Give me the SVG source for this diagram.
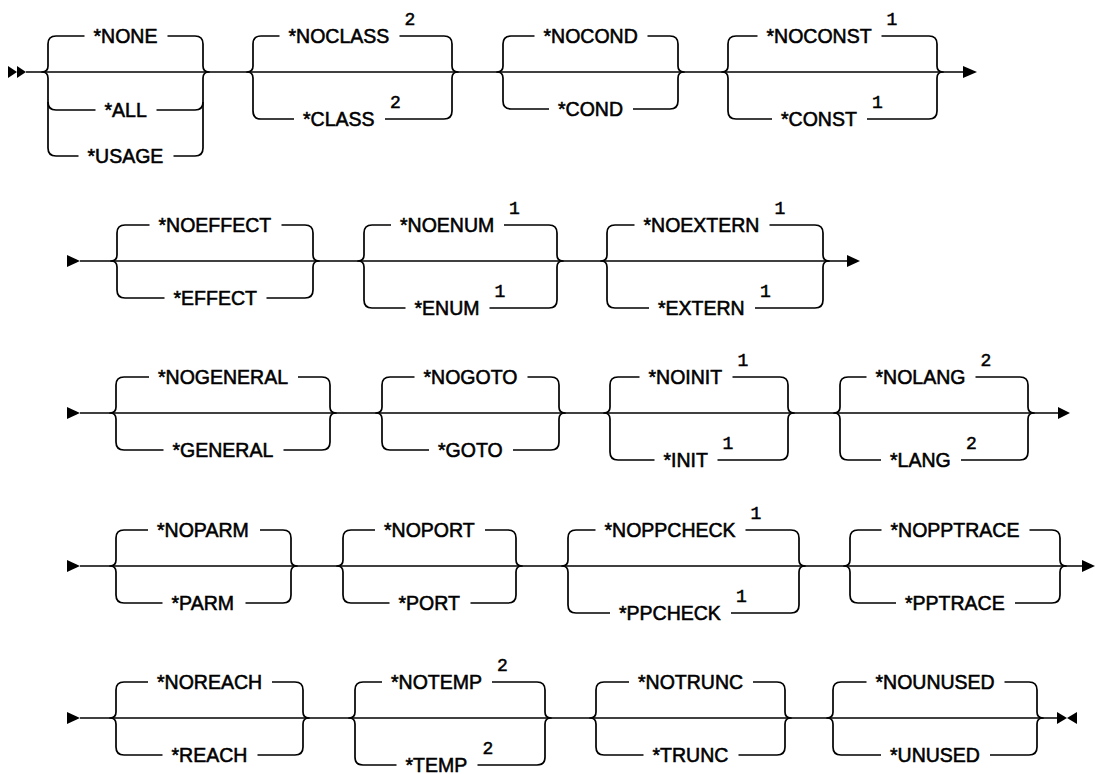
<svg xmlns="http://www.w3.org/2000/svg" width="1095" height="774" viewBox="0 0 1095 774">
<style>
.ln{fill:none;stroke:#000;stroke-width:1.7;stroke-linejoin:round}
.ah{fill:#000;stroke:none}
.lbl{font-family:"Liberation Sans",Arial,sans-serif;font-size:19.5px;fill:#000;stroke:#000;stroke-width:0.55}
.sup{font-family:"Liberation Mono","Courier New",monospace;font-size:18px;fill:#000;stroke:#000;stroke-width:0.5}
</style>
<rect width="1095" height="774" fill="#fff"/>
<g id="connectors">
<polygon class="ah" points="8,66 17,72 8,78"/><polygon class="ah" points="17,66 26,72 17,78"/>
<path class="ln" d="M26,72 H963"/><polygon class="ah" points="963,66 977,72 963,78"/>
<polygon class="ah" points="67,255 80,261 67,267"/>
<path class="ln" d="M80,261 H847"/><polygon class="ah" points="847,255 860,261 847,267"/>
<polygon class="ah" points="67,407 80,413 67,419"/>
<path class="ln" d="M80,413 H1058"/><polygon class="ah" points="1058,407 1070,413 1058,419"/>
<polygon class="ah" points="67,560 80,566 67,572"/>
<path class="ln" d="M80,566 H1082"/><polygon class="ah" points="1082,560 1095,566 1082,572"/>
<polygon class="ah" points="67,712 80,718 67,724"/>
<path class="ln" d="M80,718 H1057"/><polygon class="ah" points="1057,712 1067,718 1057,724"/><polygon class="ah" points="1077,712 1067,718 1077,724"/>
</g>
<g id="node-none">
<path class="ln" d="M84.5,36 H56 Q48,36 48,44 V66 Q48,72 42,72 Q48,72 48,78 V148 Q48,156 56,156 H78.5"/>
<path class="ln" d="M48,102 Q48,110 56,110 H95.5"/>
<path class="ln" d="M167.5,36 H195 Q203,36 203,44 V66 Q203,72 209,72 Q203,72 203,78 V148 Q203,156 195,156 H173.5"/>
<path class="ln" d="M203,102 Q203,110 195,110 H156.5"/>
<text class="lbl" x="93.5" y="43">*NONE</text>
<text class="lbl" x="104.5" y="117">*ALL</text>
<text class="lbl" x="87.5" y="163">*USAGE</text>
</g>
<g id="node-class">
<path class="ln" d="M279.5,36 H261 Q253,36 253,44 V66 Q253,72 247,72 Q253,72 253,78 V111 Q253,119 261,119 H294"/>
<path class="ln" d="M399.5,36 H444 Q452,36 452,44 V66 Q452,72 458,72 Q452,72 452,78 V111 Q452,119 444,119 H385"/>
<text class="lbl" x="288.5" y="43">*NOCLASS</text><text class="sup" x="404.5" y="25">2</text>
<text class="lbl" x="303" y="126">*CLASS</text><text class="sup" x="390" y="108">2</text>
</g>
<g id="node-cond">
<path class="ln" d="M534.5,36 H511 Q503,36 503,44 V66 Q503,72 497,72 Q503,72 503,78 V101 Q503,109 511,109 H549"/>
<path class="ln" d="M647.5,36 H670 Q678,36 678,44 V66 Q678,72 684,72 Q678,72 678,78 V101 Q678,109 670,109 H633"/>
<text class="lbl" x="543.5" y="43">*NOCOND</text>
<text class="lbl" x="558" y="116">*COND</text>
</g>
<g id="node-const">
<path class="ln" d="M757.5,36 H736 Q728,36 728,44 V66 Q728,72 722,72 Q728,72 728,78 V111 Q728,119 736,119 H772"/>
<path class="ln" d="M881.5,36 H929 Q937,36 937,44 V66 Q937,72 943,72 Q937,72 937,78 V111 Q937,119 929,119 H867"/>
<text class="lbl" x="766.5" y="43">*NOCONST</text><text class="sup" x="886.5" y="25">1</text>
<text class="lbl" x="781" y="126">*CONST</text><text class="sup" x="872" y="108">1</text>
</g>
<g id="node-effect">
<path class="ln" d="M149.5,225 H125 Q117,225 117,233 V255 Q117,261 111,261 Q117,261 117,267 V290 Q117,298 125,298 H164.5"/>
<path class="ln" d="M281.5,225 H305 Q313,225 313,233 V255 Q313,261 319,261 Q313,261 313,267 V290 Q313,298 305,298 H266.5"/>
<text class="lbl" x="158.5" y="232">*NOEFFECT</text>
<text class="lbl" x="173.5" y="305">*EFFECT</text>
</g>
<g id="node-enum">
<path class="ln" d="M391,225 H372 Q364,225 364,233 V255 Q364,261 358,261 Q364,261 364,267 V300 Q364,308 372,308 H405.5"/>
<path class="ln" d="M504,225 H549 Q557,225 557,233 V255 Q557,261 563,261 Q557,261 557,267 V300 Q557,308 549,308 H489.5"/>
<text class="lbl" x="400" y="232">*NOENUM</text><text class="sup" x="509" y="214">1</text>
<text class="lbl" x="414.5" y="315">*ENUM</text><text class="sup" x="494.5" y="297">1</text>
</g>
<g id="node-extern">
<path class="ln" d="M634.5,225 H615 Q607,225 607,233 V255 Q607,261 601,261 Q607,261 607,267 V300 Q607,308 615,308 H649"/>
<path class="ln" d="M769.5,225 H815 Q823,225 823,233 V255 Q823,261 829,261 Q823,261 823,267 V300 Q823,308 815,308 H755"/>
<text class="lbl" x="643.5" y="232">*NOEXTERN</text><text class="sup" x="774.5" y="214">1</text>
<text class="lbl" x="658" y="315">*EXTERN</text><text class="sup" x="760" y="297">1</text>
</g>
<g id="node-general">
<path class="ln" d="M149,377 H124 Q116,377 116,385 V407 Q116,413 110,413 Q116,413 116,419 V442 Q116,450 124,450 H163.5"/>
<path class="ln" d="M298,377 H322 Q330,377 330,385 V407 Q330,413 336,413 Q330,413 330,419 V442 Q330,450 322,450 H283.5"/>
<text class="lbl" x="158" y="384">*NOGENERAL</text>
<text class="lbl" x="172.5" y="457">*GENERAL</text>
</g>
<g id="node-goto">
<path class="ln" d="M414.5,377 H390 Q382,377 382,385 V407 Q382,413 376,413 Q382,413 382,419 V442 Q382,450 390,450 H429"/>
<path class="ln" d="M527.5,377 H551 Q559,377 559,385 V407 Q559,413 565,413 Q559,413 559,419 V442 Q559,450 551,450 H513"/>
<text class="lbl" x="423.5" y="384">*NOGOTO</text>
<text class="lbl" x="438" y="457">*GOTO</text>
</g>
<g id="node-init">
<path class="ln" d="M639.5,377 H618 Q610,377 610,385 V407 Q610,413 604,413 Q610,413 610,419 V452 Q610,460 618,460 H654.5"/>
<path class="ln" d="M732.5,377 H780 Q788,377 788,385 V407 Q788,413 794,413 Q788,413 788,419 V452 Q788,460 780,460 H717.5"/>
<text class="lbl" x="648.5" y="384">*NOINIT</text><text class="sup" x="737.5" y="366">1</text>
<text class="lbl" x="663.5" y="467">*INIT</text><text class="sup" x="722.5" y="449">1</text>
</g>
<g id="node-lang">
<path class="ln" d="M866.5,377 H848 Q840,377 840,385 V407 Q840,413 834,413 Q840,413 840,419 V452 Q840,460 848,460 H881"/>
<path class="ln" d="M975.5,377 H1020 Q1028,377 1028,385 V407 Q1028,413 1034,413 Q1028,413 1028,419 V452 Q1028,460 1020,460 H961"/>
<text class="lbl" x="875.5" y="384">*NOLANG</text><text class="sup" x="980.5" y="366">2</text>
<text class="lbl" x="890" y="467">*LANG</text><text class="sup" x="966" y="449">2</text>
</g>
<g id="node-parm">
<path class="ln" d="M148,530 H124 Q116,530 116,538 V560 Q116,566 110,566 Q116,566 116,572 V595 Q116,603 124,603 H162.5"/>
<path class="ln" d="M260,530 H283 Q291,530 291,538 V560 Q291,566 297,566 Q291,566 291,572 V595 Q291,603 283,603 H245.5"/>
<text class="lbl" x="157" y="537">*NOPARM</text>
<text class="lbl" x="171.5" y="610">*PARM</text>
</g>
<g id="node-port">
<path class="ln" d="M375,530 H351 Q343,530 343,538 V560 Q343,566 337,566 Q343,566 343,572 V595 Q343,603 351,603 H389.5"/>
<path class="ln" d="M485,530 H508 Q516,530 516,538 V560 Q516,566 522,566 Q516,566 516,572 V595 Q516,603 508,603 H470.5"/>
<text class="lbl" x="384" y="537">*NOPORT</text>
<text class="lbl" x="398.5" y="610">*PORT</text>
</g>
<g id="node-ppcheck">
<path class="ln" d="M595.5,530 H576 Q568,530 568,538 V560 Q568,566 562,566 Q568,566 568,572 V605 Q568,613 576,613 H610"/>
<path class="ln" d="M745.5,530 H791 Q799,530 799,538 V560 Q799,566 805,566 Q799,566 799,572 V605 Q799,613 791,613 H731"/>
<text class="lbl" x="604.5" y="537">*NOPPCHECK</text><text class="sup" x="750.5" y="519">1</text>
<text class="lbl" x="619" y="620">*PPCHECK</text><text class="sup" x="736" y="602">1</text>
</g>
<g id="node-pptrace">
<path class="ln" d="M881.5,530 H858 Q850,530 850,538 V560 Q850,566 844,566 Q850,566 850,572 V595 Q850,603 858,603 H896"/>
<path class="ln" d="M1029.5,530 H1052 Q1060,530 1060,538 V560 Q1060,566 1066,566 Q1060,566 1060,572 V595 Q1060,603 1052,603 H1015"/>
<text class="lbl" x="890.5" y="537">*NOPPTRACE</text>
<text class="lbl" x="905" y="610">*PPTRACE</text>
</g>
<g id="node-reach">
<path class="ln" d="M148,682 H124 Q116,682 116,690 V712 Q116,718 110,718 Q116,718 116,724 V747 Q116,755 124,755 H162.5"/>
<path class="ln" d="M272,682 H295 Q303,682 303,690 V712 Q303,718 309,718 Q303,718 303,724 V747 Q303,755 295,755 H257.5"/>
<text class="lbl" x="157" y="689">*NOREACH</text>
<text class="lbl" x="171.5" y="762">*REACH</text>
</g>
<g id="node-temp">
<path class="ln" d="M382,682 H363 Q355,682 355,690 V712 Q355,718 349,718 Q355,718 355,724 V757 Q355,765 363,765 H396.5"/>
<path class="ln" d="M492,682 H537 Q545,682 545,690 V712 Q545,718 551,718 Q545,718 545,724 V757 Q545,765 537,765 H477.5"/>
<text class="lbl" x="391" y="689">*NOTEMP</text><text class="sup" x="497" y="671">2</text>
<text class="lbl" x="405.5" y="772">*TEMP</text><text class="sup" x="482.5" y="754">2</text>
</g>
<g id="node-trunc">
<path class="ln" d="M629,682 H604 Q596,682 596,690 V712 Q596,718 590,718 Q596,718 596,724 V747 Q596,755 604,755 H643.5"/>
<path class="ln" d="M753,682 H777 Q785,682 785,690 V712 Q785,718 791,718 Q785,718 785,724 V747 Q785,755 777,755 H738.5"/>
<text class="lbl" x="638" y="689">*NOTRUNC</text>
<text class="lbl" x="652.5" y="762">*TRUNC</text>
</g>
<g id="node-unused">
<path class="ln" d="M866.5,682 H841 Q833,682 833,690 V712 Q833,718 827,718 Q833,718 833,724 V747 Q833,755 841,755 H881"/>
<path class="ln" d="M1004.5,682 H1029 Q1037,682 1037,690 V712 Q1037,718 1043,718 Q1037,718 1037,724 V747 Q1037,755 1029,755 H990"/>
<text class="lbl" x="875.5" y="689">*NOUNUSED</text>
<text class="lbl" x="890" y="762">*UNUSED</text>
</g>
</svg>
